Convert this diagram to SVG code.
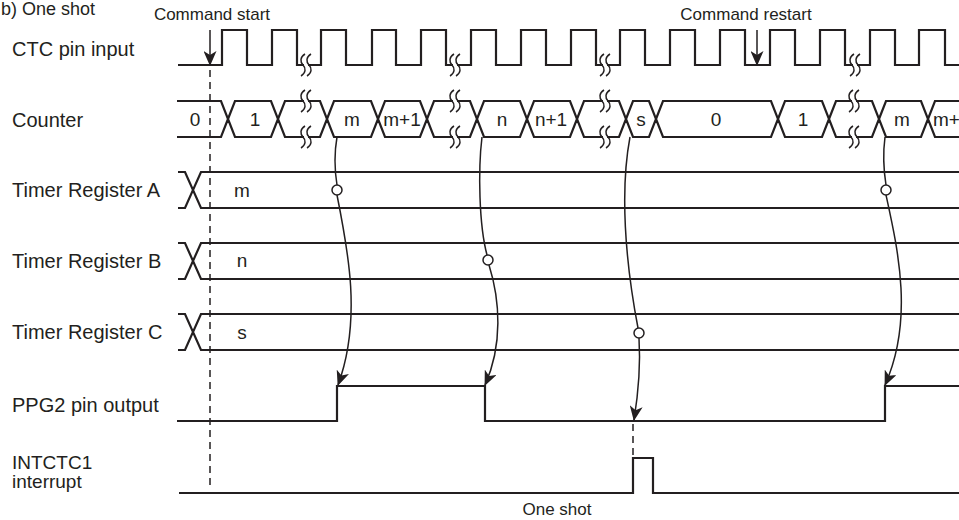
<svg xmlns="http://www.w3.org/2000/svg" width="959" height="520" viewBox="0 0 959 520">
<defs>
<style>
.w{fill:none;stroke:#231f20;stroke-width:2.2}
.c{fill:none;stroke:#231f20;stroke-width:1.5}
.d{fill:none;stroke:#231f20;stroke-width:1.5;stroke-dasharray:7,5}
.t{font-family:"Liberation Sans",Arial,sans-serif;fill:#231f20}
.lab{font-size:20px}
.val{font-size:19px;text-anchor:middle}
.top{font-size:17px;text-anchor:middle}
</style>
<marker id="ah" markerUnits="userSpaceOnUse" markerWidth="15" markerHeight="13" refX="14" refY="6.5" orient="auto"><path d="M0,0 L15,6.5 L0,13 L4,6.5 Z" fill="#231f20"/></marker>
<g id="brk"><rect x="1" y="-2.5" width="4" height="5" fill="#fff"/><path d="M2,-11 C-3,-8 -3,-3 0,0 C3,3 3,8 -2,11 M8,-11 C3,-8 3,-3 6,0 C9,3 9,8 4,11" fill="none" stroke="#231f20" stroke-width="1.5"/></g>
</defs>
<rect width="959" height="520" fill="#fff"/>
<text class="t" x="1" y="15" font-size="18">b) One shot</text>

<g id="ctc">
<text class="t lab" x="12" y="56">CTC pin input</text>
<path class="w" d="M178,65 L222,65 L222,30 L247,30 L247,65 L272,65 L272,30 L297,30 L297,65 L321,65 L321,30 L346,30 L346,65 L372,65 L372,30 L396,30 L396,65 L421,65 L421,30 L446,30 L446,65 L471,65 L471,30 L496,30 L496,65 L521,65 L521,30 L546,30 L546,65 L571,65 L571,30 L596,30 L596,65 L620,65 L620,30 L645,30 L645,65 L670,65 L670,30 L695,30 L695,65 L720,65 L720,30 L745,30 L745,65 L770,65 L770,30 L795,30 L795,65 L820,65 L820,30 L845,30 L845,65 L870,65 L870,30 L895,30 L895,65 L919,65 L919,30 L945,30 L945,65 L960,65"/>
<use href="#brk" x="303" y="65"/><use href="#brk" x="452" y="65"/><use href="#brk" x="602" y="65"/><use href="#brk" x="852" y="65"/>
</g>

<g id="counter">
<text class="t lab" x="12" y="127">Counter</text>
<path class="w" d="M177,101 L221,101 L228,119 L221,137 L177,137
M228,119 L235,101 L271,101 L278,119 L271,137 L235,137 Z
M278,119 L285,101 L320,101 L327,119 L320,137 L285,137 Z
M327,119 L334,101 L371,101 L378,119 L371,137 L334,137 Z
M378,119 L385,101 L420,101 L427,119 L420,137 L385,137 Z
M427,119 L434,101 L470,101 L477,119 L470,137 L434,137 Z
M477,119 L484,101 L520,101 L527,119 L520,137 L484,137 Z
M527,119 L534,101 L570,101 L577,119 L570,137 L534,137 Z
M577,119 L584,101 L619,101 L626,119 L619,137 L584,137 Z
M626,119 L633,101 L649,101 L656,119 L649,137 L633,137 Z
M656,119 L663,101 L771,101 L778,119 L771,137 L663,137 Z
M778,119 L785,101 L822,101 L829,119 L822,137 L785,137 Z
M829,119 L836,101 L872,101 L879,119 L872,137 L836,137 Z
M879,119 L886,101 L921,101 L928,119 L921,137 L886,137 Z
M960,101 L935,101 L928,119 L935,137 L960,137"/>
<use href="#brk" x="303" y="101"/><use href="#brk" x="303" y="137"/>
<use href="#brk" x="452" y="101"/><use href="#brk" x="452" y="137"/>
<use href="#brk" x="602" y="101"/><use href="#brk" x="602" y="137"/>
<use href="#brk" x="851" y="101"/><use href="#brk" x="851" y="137"/>
<text class="t val" x="195" y="126">0</text>
<text class="t val" x="255" y="126">1</text>
<text class="t val" x="352" y="126">m</text>
<text class="t val" x="402" y="126">m+1</text>
<text class="t val" x="502" y="126">n</text>
<text class="t val" x="551" y="126">n+1</text>
<text class="t val" x="641" y="126">s</text>
<text class="t val" x="716" y="126">0</text>
<text class="t val" x="803" y="126">1</text>
<text class="t val" x="902" y="126">m</text>
<text class="t" x="933" y="126" font-size="19">m+</text>
</g>

<g id="timerA">
<text class="t lab" x="12" y="197">Timer Register A</text>
<path class="w" d="M178,172 L185,172 L201,208 L960,208 M178,208 L185,208 L201,172 L960,172"/>
<text class="t val" x="242" y="197">m</text>
</g>
<g id="timerB">
<text class="t lab" x="12" y="268">Timer Register B</text>
<path class="w" d="M178,243 L185,243 L201,279 L960,279 M178,279 L185,279 L201,243 L960,243"/>
<text class="t val" x="242" y="267">n</text>
</g>
<g id="timerC">
<text class="t lab" x="12" y="339">Timer Register C</text>
<path class="w" d="M178,314 L185,314 L201,350 L960,350 M178,350 L185,350 L201,314 L960,314"/>
<text class="t val" x="242" y="339">s</text>
</g>
<g id="ppg2">
<text class="t lab" x="12" y="412">PPG2 pin output</text>
<path class="w" d="M177,421 L337,421 L337,386 L485,386 L485,421 L885,421 L885,386 L960,386"/>
</g>
<g id="intctc1">
<text class="t" x="12" y="469" font-size="19">INTCTC1</text>
<text class="t" x="12" y="488" font-size="19">interrupt</text>
<path class="w" d="M179,493 L633,493 L633,458 L653,458 L653,493 L960,493"/>
<text class="t top" x="557" y="515">One shot</text>
</g>

<g id="connectors">
<text class="t top" x="212" y="20">Command start</text>
<text class="t top" x="746" y="20">Command restart</text>
<path class="c" d="M210,30 L210,65" marker-end="url(#ah)"/>
<path class="c" d="M757,30 L757,65" marker-end="url(#ah)"/>
<path class="d" d="M210,70 L210,490"/>
<path class="d" d="M633,424 L633,458"/>
<path class="c" d="M337,137 Q333,160 337,185"/>
<circle class="c" cx="337" cy="190" r="5"/>
<path class="c" d="M337,195 C348,250 362,320 338,385" marker-end="url(#ah)"/>
<path class="c" d="M482,137 C478,170 479,225 487,255"/>
<circle class="c" cx="488" cy="260" r="5"/>
<path class="c" d="M489,265 C500,300 503,345 485,385" marker-end="url(#ah)"/>
<path class="c" d="M630,137 C620,190 625,260 638,328"/>
<circle class="c" cx="639" cy="333" r="5"/>
<path class="c" d="M639,338 C641,370 638,395 634,420" marker-end="url(#ah)"/>
<path class="c" d="M885,137 Q882,160 886,185"/>
<circle class="c" cx="886" cy="190" r="5"/>
<path class="c" d="M886,195 C898,250 914,320 885,385" marker-end="url(#ah)"/>
</g>
</svg>
